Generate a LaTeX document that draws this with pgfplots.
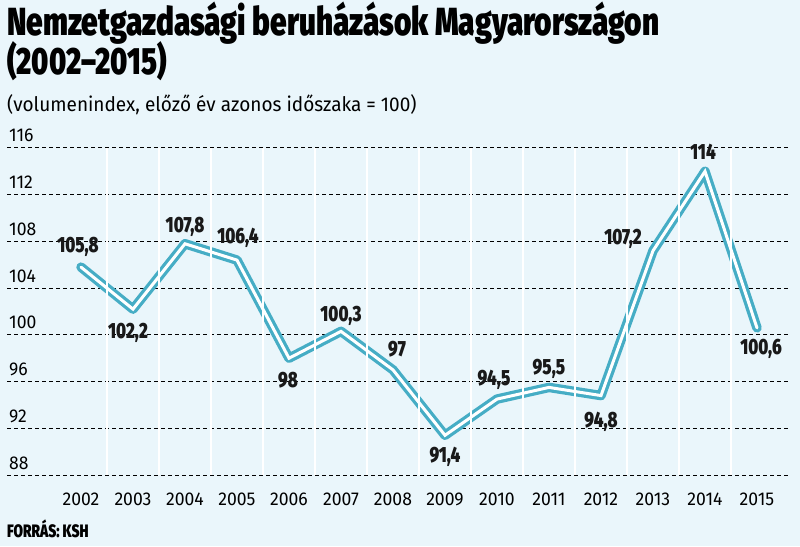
\documentclass[border=0pt]{standalone}
\usepackage{fontspec}
\usepackage{pgfplots}
\usepackage{pgfplotstable}
\pgfplotsset{compat=1.18}
\setmainfont{Fira Sans}
\newfontfamily\heavy{Fira Sans Black}[FakeStretch=0.76]
\newfontfamily\plain{Fira Sans}[FakeStretch=0.95]
\definecolor{bg}{RGB}{234,246,251}
\definecolor{lineblue}{RGB}{70,173,197}

% year, index, label text, label offsets (pt)
\pgfplotstableread{
x    y     lbl    dx   dy
2002 105.8 105,8  -3   15
2003 102.2 102,2  -5  -29
2004 107.8 107,8   0   11
2005 106.4 106,4   1   17
2006 98    98     -1  -29.5
2007 100.3 100,3   0   9.5
2008 97    97      4   13
2009 91.4  91,4    0  -27.5
2010 94.5  94,5   -3   14
2011 95.5  95,5    0   12.5
2012 94.8  94,8    0  -31.5
2013 107.2 107,2  -30  6
2014 114   114    -2   11.5
2015 100.6 100,6   4  -26.5
}\invest

\begin{document}
\begin{tikzpicture}
\useasboundingbox (-7pt,-71pt) rectangle (793pt,475pt);
\fill[bg] (-7pt,-71pt) rectangle (793pt,475pt);

\node[anchor=base west, inner sep=0pt] at (0pt,439pt)
  {\heavy\fontsize{39.2}{39.2}\selectfont Nemzetgazdasági beruházások Magyarországon};
\node[anchor=base west, inner sep=0pt] at (0pt,400pt)
  {\heavy\fontsize{38}{38}\selectfont (2002–2015)};
\node[anchor=base west, inner sep=0pt] at (0pt,363pt)
  {\plain\fontsize{20}{20}\selectfont (volumenindex, előző év azonos időszaka = 100)};
\node[anchor=base west, inner sep=0pt] at (0pt,-62pt)
  {\heavy\fontsize{18}{18}\selectfont FORRÁS: KSH};

\begin{axis}[
  at={(0pt,0pt)}, anchor=south west,
  scale only axis, width=781pt, height=327pt,
  xmin=2000.577, xmax=2015.596, ymin=88, ymax=116,
  clip=false,
  axis line style={draw=none},
  major tick length=0pt,
  xtick={2002,...,2015},
  ytick={88,92,...,116},
  ymajorgrids,
  grid style={black, line width=1pt, dash pattern=on 4pt off 3pt},
  /pgf/number format/assume math mode=true,
  x tick label style={font=\plain\fontsize{18.5}{18.5}\selectfont,
    /pgf/number format/1000 sep=, anchor=base, inner sep=0pt, yshift=-30pt},
  y tick label style={font=\plain\fontsize{18.5}{18.5}\selectfont,
    anchor=base west, inner sep=0pt, xshift=2pt, yshift=6pt},
]
% the index line: thick blue stroke with a thin white core
\addplot[lineblue, line width=9.5pt, line join=round, line cap=round]
  table[x=x, y=y] {\invest};
\addplot[white, line width=3pt, line join=miter, line cap=round]
  table[x=x, y=y] {\invest};

% white separators between the years
\pgfplotsinvokeforeach{2002.5,2003.5,2004.5,2005.5,2006.5,2007.5,2008.5,
                       2009.5,2010.5,2011.5,2012.5,2013.5,2014.5}{
  \addplot[white, line width=2pt] coordinates {(#1,88) (#1,116)};
}

% value labels
\addplot[draw=none, mark=none, nodes near coords,
  point meta=explicit symbolic,
  visualization depends on={\thisrow{dx} \as \labdx},
  visualization depends on={\thisrow{dy} \as \labdy},
  every node near coord/.append style={
    font=\heavy\fontsize{22}{22}\selectfont, text=black!90,
    anchor=base, inner sep=0pt, xshift=\labdx pt, yshift=\labdy pt}]
  table[x=x, y=y, meta=lbl] {\invest};
\end{axis}
\end{tikzpicture}
\end{document}
